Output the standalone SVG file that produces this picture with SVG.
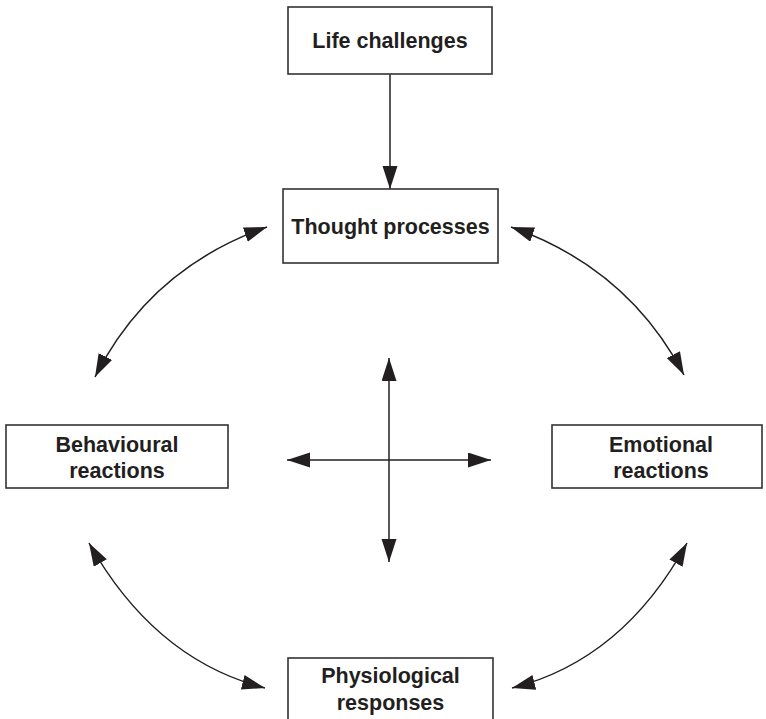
<svg xmlns="http://www.w3.org/2000/svg" width="766" height="719" viewBox="0 0 766 719">
<style>
.box{fill:#fff;stroke:#333;stroke-width:1.6}
.lbl{font-family:"Liberation Sans",Arial,sans-serif;font-weight:bold;font-size:21.5px;fill:#231f20;text-anchor:middle}
.con{fill:none;stroke:#231f20;stroke-width:1.5}
</style>
<defs>
<marker id="ah" markerUnits="userSpaceOnUse" markerWidth="24" markerHeight="16" viewBox="0 0 24 16" refX="23" refY="7.5" orient="auto-start-reverse">
<path d="M0,0 L23,7.5 L0,15 z" fill="#231f20"/>
</marker>
</defs>
<rect width="766" height="719" fill="#fff"/>
<g id="connectors">
<path class="con" d="M390,74 L390,189" marker-end="url(#ah)"/>
<path class="con" d="M95,377 Q150,268 267,227" marker-start="url(#ah)" marker-end="url(#ah)"/>
<path class="con" d="M684,375 Q628,268 511,227" marker-start="url(#ah)" marker-end="url(#ah)"/>
<path class="con" d="M89,543 Q155,660 265,688" marker-start="url(#ah)" marker-end="url(#ah)"/>
<path class="con" d="M687,543 Q623,660 512,688" marker-start="url(#ah)" marker-end="url(#ah)"/>
<path class="con" d="M389,358 L389,562" marker-start="url(#ah)" marker-end="url(#ah)"/>
<path class="con" d="M287,460 L491,460" marker-start="url(#ah)" marker-end="url(#ah)"/>
</g>
<g id="life-challenges">
<rect class="box" x="288" y="7" width="204" height="67"/>
<text class="lbl" x="390" y="48">Life challenges</text>
</g>
<g id="thought-processes">
<rect class="box" x="283" y="189" width="215" height="74"/>
<text class="lbl" x="390.5" y="234">Thought processes</text>
</g>
<g id="behavioural-reactions">
<rect class="box" x="6" y="425" width="222" height="63"/>
<text class="lbl" x="117" y="452">Behavioural</text>
<text class="lbl" x="117" y="478">reactions</text>
</g>
<g id="emotional-reactions">
<rect class="box" x="552" y="425" width="210" height="63"/>
<text class="lbl" x="661" y="452">Emotional</text>
<text class="lbl" x="661" y="478">reactions</text>
</g>
<g id="physiological-responses">
<rect class="box" x="288" y="658" width="205" height="80"/>
<text class="lbl" x="390.5" y="683">Physiological</text>
<text class="lbl" x="390.5" y="710">responses</text>
</g>
</svg>
